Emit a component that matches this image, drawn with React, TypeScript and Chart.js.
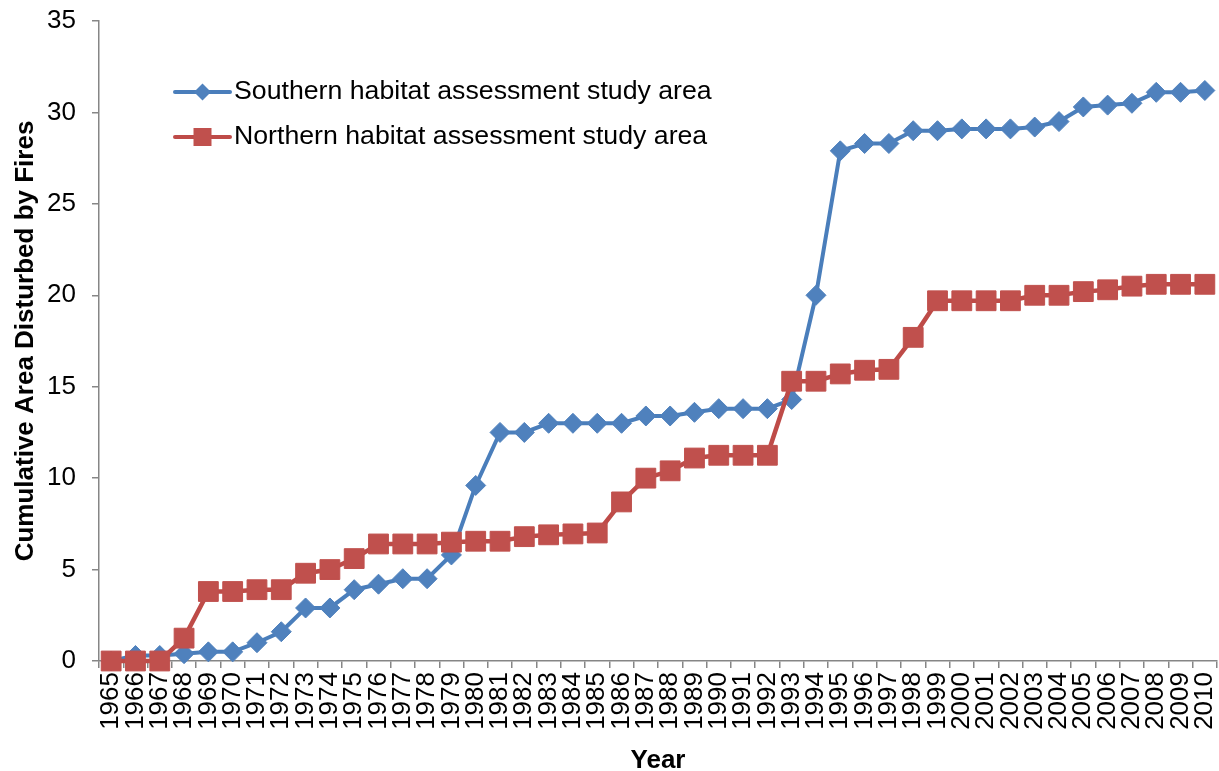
import React, { useEffect, useRef } from "react";
import { Chart, registerables } from "chart.js";

Chart.register(...registerables);

const YEARS: string[] = [
  "1965","1966","1967","1968","1969","1970","1971","1972","1973","1974",
  "1975","1976","1977","1978","1979","1980","1981","1982","1983","1984",
  "1985","1986","1987","1988","1989","1990","1991","1992","1993","1994",
  "1995","1996","1997","1998","1999","2000","2001","2002","2003","2004",
  "2005","2006","2007","2008","2009","2010",
];

const SOUTHERN: number[] = [
  0.0, 0.3, 0.3, 0.4, 0.5, 0.5, 1.0, 1.6, 2.9, 2.9,
  3.9, 4.2, 4.5, 4.5, 5.8, 9.6, 12.5, 12.5, 13.0, 13.0,
  13.0, 13.0, 13.4, 13.4, 13.6, 13.8, 13.8, 13.8, 14.3, 20.0,
  27.9, 28.3, 28.3, 29.0, 29.0, 29.1, 29.1, 29.1, 29.2, 29.5,
  30.3, 30.4, 30.5, 31.1, 31.1, 31.2,
];

const NORTHERN: number[] = [
  0.0, 0.0, 0.0, 1.25, 3.8, 3.8, 3.9, 3.9, 4.8, 5.0,
  5.6, 6.4, 6.4, 6.4, 6.5, 6.55, 6.55, 6.8, 6.9, 6.95,
  7.0, 8.7, 10.0, 10.4, 11.1, 11.25, 11.25, 11.25, 15.3, 15.3,
  15.7, 15.9, 15.95, 17.7, 19.7, 19.7, 19.7, 19.7, 20.0, 20.0,
  20.2, 20.3, 20.5, 20.6, 20.6, 20.6,
];

const SERIES_NAMES: string[] = [
  "Southern habitat assessment study area",
  "Northern habitat assessment study area",
];

const X_TITLE = "Year";
const Y_TITLE = "Cumulative Area Disturbed by Fires";

const FONT = "'Liberation Sans', Arial, Helvetica, sans-serif";
const BLUE_LINE = "#4A7EBB";
const BLUE_MARK = "#4F81BD";
const RED_LINE = "#BE4B48";
const RED_MARK = "#C0504D";
const AXIS = "#868686";

const legendPlugin = {
  id: "customLegend",
  afterDraw(chart: any) {
    const ctx = chart.ctx as CanvasRenderingContext2D;
    const { left, top } = chart.chartArea;
    const items = [
      { label: SERIES_NAMES[0], line: BLUE_LINE, fill: BLUE_MARK, shape: "diamond" },
      { label: SERIES_NAMES[1], line: RED_LINE, fill: RED_MARK, shape: "square" },
    ];
    ctx.save();
    items.forEach((it, i) => {
      const y = top + 71 + i * 45;
      const x0 = left + 76;
      const x1 = left + 131;
      const xm = (x0 + x1) / 2;
      ctx.strokeStyle = it.line;
      ctx.lineWidth = 4;
      ctx.lineCap = "round";
      ctx.beginPath();
      ctx.moveTo(x0, y);
      ctx.lineTo(x1, y);
      ctx.stroke();
      ctx.fillStyle = it.fill;
      ctx.beginPath();
      if (it.shape === "diamond") {
        const r = 8.5;
        ctx.moveTo(xm - r, y);
        ctx.lineTo(xm, y - r);
        ctx.lineTo(xm + r, y);
        ctx.lineTo(xm, y + r);
        ctx.closePath();
      } else {
        const h = 9;
        ctx.rect(xm - h, y - h, 2 * h, 2 * h);
      }
      ctx.fill();
      ctx.fillStyle = "#000000";
      ctx.font = `26.7px ${FONT}`;
      ctx.textAlign = "left";
      ctx.textBaseline = "middle";
      ctx.fillText(it.label, left + 135, y);
    });
    ctx.restore();
  },
};

export default function App() {
  const canvasRef = useRef<HTMLCanvasElement | null>(null);

  useEffect(() => {
    if (!canvasRef.current) return;
    const chart = new Chart(canvasRef.current, {
      type: "line",
      data: {
        labels: YEARS,
        datasets: [
          {
            label: SERIES_NAMES[0],
            data: SOUTHERN,
            borderColor: BLUE_LINE,
            backgroundColor: BLUE_MARK,
            borderWidth: 4,
            pointStyle: "rectRot",
            pointRadius: 10,
            pointBackgroundColor: BLUE_MARK,
            pointBorderColor: BLUE_MARK,
            pointBorderWidth: 1,
            tension: 0,
            clip: false,
            order: 2,
          },
          {
            label: SERIES_NAMES[1],
            data: NORTHERN,
            borderColor: RED_LINE,
            backgroundColor: RED_MARK,
            borderWidth: 4.5,
            pointStyle: "rect",
            pointRadius: 14,
            pointBackgroundColor: RED_MARK,
            pointBorderColor: RED_MARK,
            pointBorderWidth: 1,
            tension: 0,
            clip: false,
            order: 1,
          },
        ],
      },
      options: {
        animation: false,
        responsive: false,
        layout: { autoPadding: false, padding: { top: 21, right: 2, left: 0, bottom: 0 } },
        plugins: {
          legend: { display: false },
          tooltip: { enabled: false },
        },
        scales: {
          x: {
            type: "category",
            offset: true,
            afterFit: (scale: any) => {
              scale.height = 110;
              scale.paddingLeft = 0;
              scale.paddingRight = 0;
            },
            grid: {
              display: true,
              offset: true,
              drawOnChartArea: false,
              drawTicks: true,
              tickLength: 7,
              color: AXIS,
              lineWidth: 1.5,
            },
            border: { display: true, color: AXIS, width: 1.5 },
            ticks: {
              autoSkip: false,
              minRotation: 90,
              maxRotation: 90,
              padding: 4,
              color: "#000000",
              font: { family: FONT, size: 26 },
            },
            title: {
              display: true,
              text: X_TITLE,
              color: "#000000",
              padding: 0,
              font: { family: FONT, size: 26, weight: "bold", lineHeight: 0.8 },
            },
          },
          y: {
            min: 0,
            max: 35,
            afterFit: (scale: any) => {
              scale.width = 99;
              scale.paddingTop = 0;
              scale.paddingBottom = 0;
            },
            grid: {
              display: true,
              drawOnChartArea: false,
              drawTicks: true,
              tickLength: 7,
              color: AXIS,
              lineWidth: 1.5,
            },
            border: { display: true, color: AXIS, width: 1.5 },
            ticks: {
              stepSize: 5,
              padding: 16,
              color: "#000000",
              font: { family: FONT, size: 26 },
            },
            title: {
              display: true,
              text: Y_TITLE,
              color: "#000000",
              padding: { top: 10, bottom: 0 },
              font: { family: FONT, size: 26, weight: "bold" },
            },
          },
        },
      },
      plugins: [legendPlugin],
    });
    return () => chart.destroy();
  }, []);

  return (
    <div style={{ position: "fixed", left: 0, top: 0, width: 1219, height: 771 }}>
      <canvas ref={canvasRef} width={1219} height={771} style={{ display: "block" }} />
    </div>
  );
}
